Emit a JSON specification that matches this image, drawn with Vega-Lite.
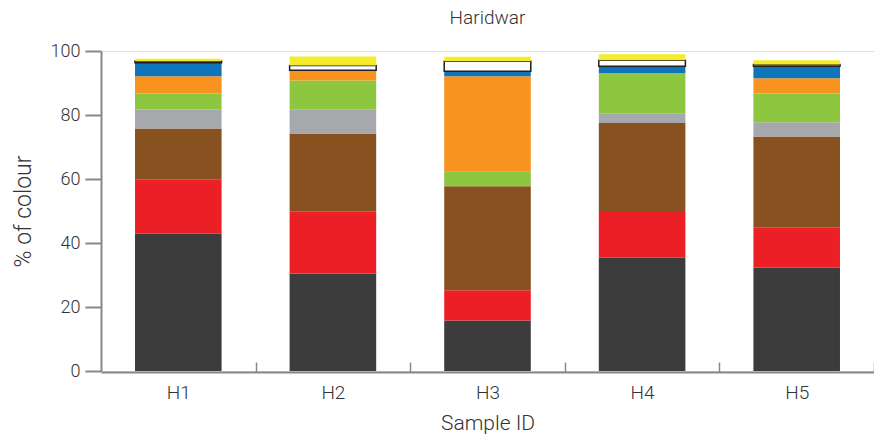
{
  "$schema": "https://vega.github.io/schema/vega-lite/v6.json",
  "width": 773,
  "height": 320,
  "autosize": "none",
  "padding": {"left": 101, "top": 51, "right": 0, "bottom": 67},
  "background": "white",
  "title": {"text": "Haridwar", "font": "Roboto", "fontWeight": 300, "fontSize": 19, "color": "#333333", "offset": 14, "anchor": "middle"},
  "data": {"values": [
    {"sample": "H1", "colour": "Black", "pct": 42.9},
    {"sample": "H1", "colour": "Red", "pct": 16.9},
    {"sample": "H1", "colour": "Brown", "pct": 16.0},
    {"sample": "H1", "colour": "Grey", "pct": 5.9},
    {"sample": "H1", "colour": "Green", "pct": 5.0},
    {"sample": "H1", "colour": "Orange", "pct": 5.4},
    {"sample": "H1", "colour": "Blue", "pct": 4.2},
    {"sample": "H1", "colour": "White", "pct": 0.6},
    {"sample": "H1", "colour": "Yellow", "pct": 0.7},
    {"sample": "H2", "colour": "Black", "pct": 30.5},
    {"sample": "H2", "colour": "Red", "pct": 19.4},
    {"sample": "H2", "colour": "Brown", "pct": 24.3},
    {"sample": "H2", "colour": "Grey", "pct": 7.6},
    {"sample": "H2", "colour": "Green", "pct": 9.0},
    {"sample": "H2", "colour": "Orange", "pct": 3.2},
    {"sample": "H2", "colour": "Blue", "pct": 0},
    {"sample": "H2", "colour": "White", "pct": 1.5},
    {"sample": "H2", "colour": "Yellow", "pct": 2.8},
    {"sample": "H3", "colour": "Black", "pct": 15.8},
    {"sample": "H3", "colour": "Red", "pct": 9.4},
    {"sample": "H3", "colour": "Brown", "pct": 32.5},
    {"sample": "H3", "colour": "Grey", "pct": 0},
    {"sample": "H3", "colour": "Green", "pct": 4.6},
    {"sample": "H3", "colour": "Orange", "pct": 29.8},
    {"sample": "H3", "colour": "Blue", "pct": 1.6},
    {"sample": "H3", "colour": "White", "pct": 3.1},
    {"sample": "H3", "colour": "Yellow", "pct": 1.4},
    {"sample": "H4", "colour": "Black", "pct": 35.4},
    {"sample": "H4", "colour": "Red", "pct": 14.3},
    {"sample": "H4", "colour": "Brown", "pct": 27.8},
    {"sample": "H4", "colour": "Grey", "pct": 2.9},
    {"sample": "H4", "colour": "Green", "pct": 12.7},
    {"sample": "H4", "colour": "Orange", "pct": 0},
    {"sample": "H4", "colour": "Blue", "pct": 2.1},
    {"sample": "H4", "colour": "White", "pct": 1.9},
    {"sample": "H4", "colour": "Yellow", "pct": 1.9},
    {"sample": "H5", "colour": "Black", "pct": 32.3},
    {"sample": "H5", "colour": "Red", "pct": 12.5},
    {"sample": "H5", "colour": "Brown", "pct": 28.5},
    {"sample": "H5", "colour": "Grey", "pct": 4.4},
    {"sample": "H5", "colour": "Green", "pct": 9.0},
    {"sample": "H5", "colour": "Orange", "pct": 4.8},
    {"sample": "H5", "colour": "Blue", "pct": 3.7},
    {"sample": "H5", "colour": "White", "pct": 0.6},
    {"sample": "H5", "colour": "Yellow", "pct": 1.3}
  ]},
  "transform": [
    {"calculate": "indexof(['Black','Red','Brown','Grey','Green','Orange','Blue','White','Yellow'], datum.colour)", "as": "stackOrder"}
  ],
  "mark": {"type": "bar", "strokeWidth": 1.5},
  "encoding": {
    "x": {
      "field": "sample", "type": "nominal",
      "scale": {"paddingInner": 0.44, "paddingOuter": 0.22},
      "axis": {
        "title": "Sample ID", "labelAngle": 0,
        "tickOffset": 77.3, "labelOffset": -77.3,
        "tickSize": -10, "tickColor": "#888888", "tickWidth": 1.5,
        "domainColor": "#888888", "domainWidth": 2, "offset": 1,
        "labelFont": "Roboto", "labelFontWeight": 300, "labelFontSize": 19, "labelColor": "#333333", "labelPadding": 21,
        "titleFont": "Roboto", "titleFontWeight": 300, "titleFontSize": 21, "titleColor": "#333333", "titlePadding": 10
      }
    },
    "y": {
      "field": "pct", "type": "quantitative", "stack": "zero",
      "scale": {"domain": [0, 100]},
      "axis": {
        "title": "% of colour", "grid": false, "values": [0, 20, 40, 60, 80, 100],
        "tickSize": 16, "tickColor": "#888888", "tickWidth": 2,
        "domainColor": "#888888", "domainWidth": 2,
        "labelFont": "Roboto", "labelFontWeight": 300, "labelFontSize": 18, "labelColor": "#333333", "labelPadding": 5,
        "titleFont": "Roboto", "titleFontWeight": 300, "titleFontSize": 23, "titleColor": "#333333", "titlePadding": 15
      }
    },
    "color": {
      "field": "colour", "type": "nominal",
      "scale": {
        "domain": ["Black", "Red", "Brown", "Grey", "Green", "Orange", "Blue", "White", "Yellow"],
        "range": ["#3c3c3c", "#ed1f26", "#87521f", "#a7a8ab", "#8dc63f", "#f7931e", "#0e75bb", "#ffffff", "#f4ec2b"]
      },
      "legend": null
    },
    "stroke": {
      "field": "colour", "type": "nominal",
      "scale": {
        "domain": ["Black", "Red", "Brown", "Grey", "Green", "Orange", "Blue", "White", "Yellow"],
        "range": ["transparent", "transparent", "transparent", "transparent", "transparent", "transparent", "transparent", "#231f20", "transparent"]
      },
      "legend": null
    },
    "order": {"field": "stackOrder", "type": "quantitative", "sort": "ascending"}
  }
}
